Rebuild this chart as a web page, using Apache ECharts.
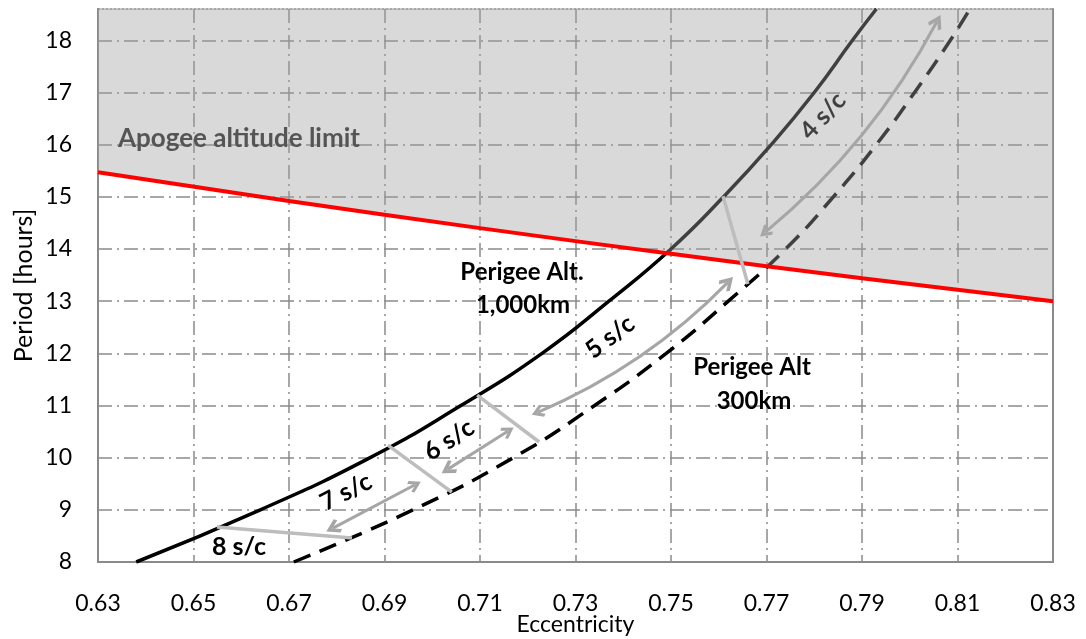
<!DOCTYPE html>
<html lang="en">
<head>
<meta charset="UTF-8">
<title>Period vs Eccentricity</title>
<script src="https://cdn.jsdelivr.net/npm/echarts@6/dist/echarts.min.js"></script>
<style>
    html, body { margin: 0; padding: 0; background: #fff; }
    #chart { width: 1086px; height: 639px; }
</style>
</head>
<body>
<div id="chart"></div>
<script>
// [eccentricity, period in hours]
var perigee1000 = [[0.638, 8], [0.664, 9], [0.687, 10], [0.706, 11], [0.723, 12], [0.737, 13],
    [0.750, 14], [0.761, 15], [0.771, 16], [0.780, 17], [0.788, 18], [0.793, 18.6]];
var perigee300 = [[0.671, 8], [0.696, 9], [0.717, 10], [0.734, 11], [0.749, 12], [0.762, 13],
    [0.774, 14], [0.784, 15], [0.793, 16], [0.801, 17], [0.8085, 18], [0.8126, 18.6]];
var apogeeLimit = [[0.63, 15.47], [0.67, 14.92], [0.71, 14.40], [0.75, 13.91], [0.79, 13.44], [0.83, 13.0]];

// grey lines between the s/c zones
var zoneEdges = [
    [[0.6549, 8.67], [0.6832, 8.46]],
    [[0.6907, 10.24], [0.7041, 9.34]],
    [[0.7094, 11.2], [0.7224, 10.3]],
    [[0.7609, 15.01], [0.7661, 13.33]]
];
// double arrows (straight ones, then the two bent ones, given top end first)
var arrowsStraight = [
    [[0.6792, 8.65], [0.6964, 9.48]],
    [[0.7033, 9.78], [0.7159, 10.51]]
];
var arrowsBent = [
    [[0.7619, 13.36], [0.7221, 10.87]],
    [[0.8057, 18.36], [0.7697, 14.32]]
];

var xMin = 0.63, xMax = 0.83, xStep = 0.02;
var yMin = 8, yMax = 18.6, yStep = 1;

var gridColor = '#8a8a8a';
var font = 'Lato, "Open Sans", sans-serif';
var chevron = 'path://M6,0 L12,9 L10,11 L6,5 L2,11 L0,9 Z';

function toLines(list) {
    return list.map(function (c) { return { coords: c }; });
}

function label(text, x, y, deg, size, color) {
    return {
        type: 'text', x: x, y: y, z: 10,
        rotation: (deg || 0) * Math.PI / 180,
        style: {
            text: text, font: 'bold ' + size + 'px ' + font, fill: color || '#000',
            align: 'center', verticalAlign: 'middle'
        }
    };
}

var myChart = echarts.init(document.getElementById('chart'));

var option = {
    animation: false,
    backgroundColor: '#fff',
    textStyle: { fontFamily: font },
    grid: { left: 98, right: 33, top: 9, bottom: 77, containLabel: false, outerBoundsMode: 'none' },
    xAxis: [
        {
            type: 'value',
            min: xMin, max: xMax, interval: xStep,
            name: 'Eccentricity',
            nameLocation: 'middle',
            nameMoveOverlap: false,
            nameGap: 51,
            nameTextStyle: { fontSize: 23, color: '#000', fontFamily: font },
            axisLine: { lineStyle: { color: gridColor, width: 2 } },
            axisTick: { show: false },
            axisLabel: {
                fontSize: 23, color: '#000', margin: 30, fontFamily: font,
                formatter: function (v) { return v.toFixed(2); }
            },
            splitLine: {
                show: true, showMinLine: false, showMaxLine: false,
                lineStyle: { color: gridColor, width: 1.5, type: [14, 5, 2, 5] }
            }
        },
        {
            type: 'value',
            position: 'top',
            min: xMin, max: xMax,
            axisLine: { show: true, lineStyle: { color: gridColor, width: 1.5, type: [2, 2] } },
            axisTick: { show: false },
            axisLabel: { show: false },
            splitLine: { show: false }
        }
    ],
    yAxis: [
        {
            type: 'value',
            min: yMin, max: yMax, interval: yStep,
            name: 'Period [hours]',
            nameLocation: 'middle',
            nameMoveOverlap: false,
            nameGap: 62,
            nameTextStyle: { fontSize: 25, color: '#000', fontFamily: font },
            axisLine: { show: true, lineStyle: { color: gridColor, width: 2 } },
            axisTick: { show: false },
            axisLabel: {
                fontSize: 23, color: '#000', margin: 26, fontFamily: font,
                showMaxLabel: false,
                formatter: function (v) { return Math.abs(v - Math.round(v)) < 1e-6 ? String(Math.round(v)) : ''; }
            },
            splitLine: {
                show: true, showMinLine: false, showMaxLine: false,
                lineStyle: { color: gridColor, width: 1.5, type: [14, 5, 2, 5] }
            }
        },
        {
            type: 'value',
            position: 'right',
            min: yMin, max: yMax,
            axisLine: { show: true, lineStyle: { color: gridColor, width: 2 } },
            axisTick: { show: false },
            axisLabel: { show: false },
            splitLine: { show: false }
        }
    ],
    series: [
        {
            name: 'Perigee 1000km',
            type: 'line',
            data: perigee1000,
            smooth: true,
            showSymbol: false,
            lineStyle: { color: '#000', width: 3.5 },
            z: 2
        },
        {
            name: 'Perigee 300km',
            type: 'line',
            data: perigee300,
            smooth: true,
            showSymbol: false,
            lineStyle: { color: '#000', width: 3.5, type: [18, 10] },
            z: 2
        },
        {
            name: 'Apogee zone',
            type: 'line',
            data: apogeeLimit,
            smooth: true,
            showSymbol: false,
            lineStyle: { color: '#a0a0a0', width: 1.5 },
            areaStyle: { origin: 'end', color: 'rgba(160,160,160,0.4)', opacity: 1 },
            z: 3
        },
        {
            name: 'Apogee limit',
            type: 'line',
            data: apogeeLimit,
            smooth: true,
            showSymbol: false,
            lineStyle: { color: '#ff0000', width: 4 },
            z: 4
        },
        {
            type: 'lines',
            coordinateSystem: 'cartesian2d',
            data: toLines(zoneEdges),
            lineStyle: { color: '#bdbdbd', width: 3.5, opacity: 1 },
            z: 5
        },
        {
            type: 'lines',
            coordinateSystem: 'cartesian2d',
            data: toLines(arrowsStraight),
            symbol: [chevron, chevron],
            symbolSize: [15, 13],
            lineStyle: { color: '#a6a6a6', width: 3, opacity: 1 },
            itemStyle: { color: '#a6a6a6' },
            z: 5
        },
        {
            type: 'lines',
            coordinateSystem: 'cartesian2d',
            data: toLines(arrowsBent),
            symbol: [chevron, chevron],
            symbolSize: [15, 13],
            lineStyle: { color: '#a6a6a6', width: 3, opacity: 1, curveness: 0.1 },
            itemStyle: { color: '#a6a6a6' },
            z: 5
        }
    ],
    graphic: [
        { type: 'text', left: 118, top: 126, z: 10,
          style: { text: 'Apogee altitude limit', font: 'bold 26px ' + font, fill: '#555555' } },
        label('8 s/c', 239, 547, 0, 25),
        label('7 s/c', 346, 492, 27, 25),
        label('6 s/c', 449, 440, 33, 25),
        label('5 s/c', 610, 337, 37, 25),
        label('4 s/c', 823, 116, 47, 25, '#404040'),
        label('Perigee Alt.', 522, 272, 0, 24),
        label('1,000km', 523, 305, 0, 24),
        label('Perigee Alt', 752, 367, 0, 24),
        label('300km', 754, 401, 0, 24)
    ]
};

myChart.setOption(option);
</script>
</body>
</html>
